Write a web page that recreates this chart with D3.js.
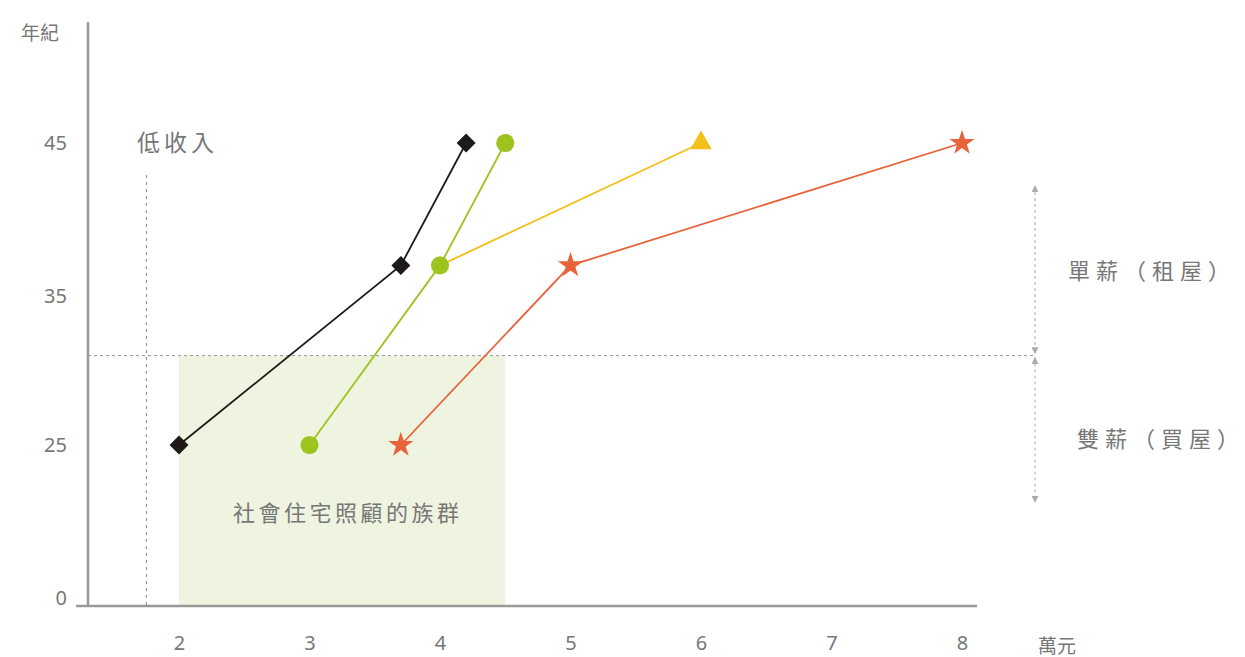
<!DOCTYPE html>
<html>
<head>
<meta charset="utf-8" />
<script src="https://cdn.jsdelivr.net/npm/d3@7/dist/d3.min.js"></script>
<title>income age</title>
<style>
  body { margin: 0; background: #fff; }
  text { font-family: "Noto Sans CJK TC", "Noto Sans", sans-serif; fill: #777; }
</style>
</head>
<body>
<script>
// data
const incomeTicks = [2, 3, 4, 5, 6, 7, 8];
const ageTicks = [0, 25, 35, 45];
const blackX = [2, 3.7, 4.2];
const blackY = [25, 37, 45];
const greenX = [3, 4, 4.5];
const greenY = [25, 37, 45];
const yellowX = [4, 6];
const yellowY = [37, 45];
const orangeX = [3.7, 5, 8];
const orangeY = [25, 37, 45];
const lowIncome = 1.75;
const careMaxIncome = 4.5;
const splitAge = 31;

const w = 1245, h = 657;
const svg = d3.select("body").append("svg")
  .attr("width", w).attr("height", h);

const x = d3.scaleLinear().domain([2, 8]).range([179, 962]);
// uneven age axis: each labelled age sits on its own step
const y = d3.scaleLinear().domain(ageTicks).range([598, 445, 296, 143]);
const axisY = 606, axisX = 88;

// shaded social housing block
svg.append("rect")
  .attr("x", x(2)).attr("y", y(splitAge))
  .attr("width", x(careMaxIncome) - x(2))
  .attr("height", axisY - y(splitAge))
  .attr("fill", "#eef4df");

svg.append("text").attr("x", 233).attr("y", 521)
  .attr("font-size", 22).attr("letter-spacing", 3.5).text("社會住宅照顧的族群");

// dashed guides
svg.append("line")
  .attr("x1", x(lowIncome)).attr("x2", x(lowIncome))
  .attr("y1", 175).attr("y2", axisY)
  .attr("stroke", "#888").attr("stroke-dasharray", "3,4");
svg.append("line")
  .attr("x1", axisX).attr("x2", 1035)
  .attr("y1", y(splitAge)).attr("y2", y(splitAge))
  .attr("stroke", "#999").attr("stroke-dasharray", "3,3");

svg.append("text").attr("x", 137).attr("y", 151)
  .attr("font-size", 23).attr("letter-spacing", 4).text("低收入");

// axes
svg.append("line").attr("x1", 76).attr("x2", 977)
  .attr("y1", axisY).attr("y2", axisY)
  .attr("stroke", "#999").attr("stroke-width", 2.5);
svg.append("line").attr("x1", axisX).attr("x2", axisX)
  .attr("y1", 22).attr("y2", axisY)
  .attr("stroke", "#999").attr("stroke-width", 2.5);

const xAxis = d3.axisBottom(x).tickValues(incomeTicks).tickFormat(d3.format("d"))
  .tickSize(0).tickPadding(0);
const gx = svg.append("g").attr("transform", `translate(0,${axisY})`).call(xAxis);
gx.select(".domain").remove();
gx.selectAll("text").attr("dy", 44).attr("font-size", 20)
  .style("font-family", "'Noto Sans', sans-serif").attr("fill", "#888");

const yAxis = d3.axisLeft(y).tickValues(ageTicks).tickSize(0).tickPadding(0);
const gy = svg.append("g").attr("transform", `translate(${axisX},0)`).call(yAxis);
gy.select(".domain").remove();
gy.selectAll("text").attr("x", -21).attr("font-size", 20)
  .style("font-family", "'Noto Sans', sans-serif").attr("fill", "#888");

svg.append("text").attr("x", 21).attr("y", 40).attr("font-size", 19).text("年紀");
svg.append("text").attr("x", 1038).attr("y", 653).attr("font-size", 19).text("萬元");

// right-hand brackets
const defs = svg.append("defs");
defs.append("marker").attr("id", "ah")
  .attr("viewBox", "0 0 10 10").attr("refX", 9).attr("refY", 5)
  .attr("markerWidth", 7).attr("markerHeight", 7).attr("orient", "auto-start-reverse")
  .append("path").attr("d", "M0,0L10,5L0,10z").attr("fill", "#aaa");

function bracket(y1, y2) {
  svg.append("line").attr("x1", 1035).attr("x2", 1035)
    .attr("y1", y1).attr("y2", y2)
    .attr("stroke", "#aaa").attr("stroke-dasharray", "3,3")
    .attr("marker-start", "url(#ah)").attr("marker-end", "url(#ah)");
}
bracket(186, y(splitAge) - 2);
bracket(y(splitAge) + 2, 502);

svg.append("text").attr("x", 1068).attr("y", 279)
  .attr("font-size", 22).attr("letter-spacing", 6).text("單薪（租屋）");
svg.append("text").attr("x", 1077).attr("y", 447)
  .attr("font-size", 22).attr("letter-spacing", 6).text("雙薪（買屋）");

// series
const series = [
  { xs: blackX, ys: blackY, color: "#1f1a1a", shape: d3.symbolDiamond2, size: 230 },
  { xs: greenX, ys: greenY, color: "#9dc41e", shape: d3.symbolCircle, size: 260 },
  { xs: yellowX, ys: yellowY, color: "#f2c018", shape: d3.symbolTriangle, size: 200, skipFirst: true },
  { xs: orangeX, ys: orangeY, color: "#e8623a", shape: d3.symbolStar, size: 200 }
];

const line = d3.line().x(d => x(d[0])).y(d => y(d[1]));

series.forEach(s => {
  const pts = s.xs.map((v, i) => [v, s.ys[i]]);
  svg.append("path").datum(pts)
    .attr("d", line).attr("fill", "none")
    .attr("stroke", s.color).attr("stroke-width", 1.8);
});
series.forEach(s => {
  const pts = s.xs.map((v, i) => [v, s.ys[i]]);
  svg.selectAll(null).data(s.skipFirst ? pts.slice(1) : pts).enter()
    .append("path")
    .attr("transform", d => `translate(${x(d[0])},${y(d[1])})`)
    .attr("d", d3.symbol().type(s.shape).size(s.size))
    .attr("fill", s.color);
});
</script>
</body>
</html>
